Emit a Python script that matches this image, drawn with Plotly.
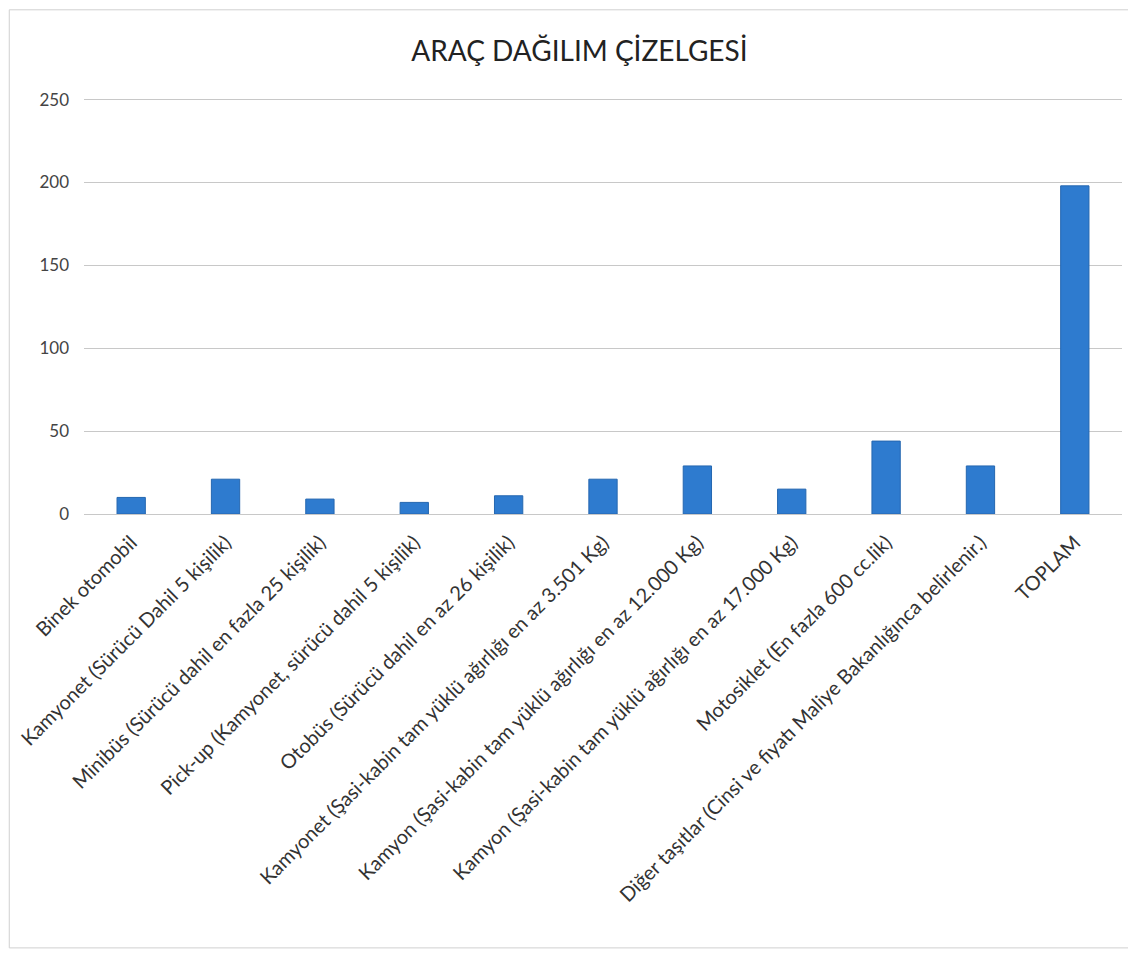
import plotly.graph_objects as go

title = "ARAÇ DAĞILIM ÇİZELGESİ"
categories = [
    "Binek otomobil",
    "Kamyonet (Sürücü Dahil 5 kişilik)",
    "Minibüs (Sürücü dahil en fazla 25 kişilik)",
    "Pick-up (Kamyonet, sürücü dahil 5 kişilik)",
    "Otobüs (Sürücü dahil en az 26 kişilik)",
    "Kamyonet (Şasi-kabin tam yüklü ağırlığı en az 3.501 Kg)",
    "Kamyon (Şasi-kabin tam yüklü ağırlığı en az 12.000 Kg)",
    "Kamyon (Şasi-kabin tam yüklü ağırlığı en az 17.000 Kg)",
    "Motosiklet (En fazla 600 cc.lik)",
    "Diğer taşıtlar (Cinsi ve fiyatı Maliye Bakanlığınca belirlenir.)",
    "TOPLAM",
]
values = [10, 21, 9, 7, 11, 21, 29, 15, 44, 29, 198]
y_ticks = [0, 50, 100, 150, 200, 250]

fig = go.Figure(go.Bar(
    x=categories, y=values,
    marker=dict(color="#2E7BCF", line=dict(color="#2567B0", width=1)),
    width=0.3,
))

fig.update_layout(
    width=1136, height=954,
    paper_bgcolor="white", plot_bgcolor="white",
    margin=dict(l=76, r=22, t=90, b=448),
    title=dict(text=title, x=0.503, xanchor="center", y=0.955, yanchor="middle",
               font=dict(family="Lato, Open Sans, sans-serif", size=28, color="#222222")),
    font=dict(family="Lato, Open Sans, sans-serif", color="#404040"),
    showlegend=False,
    shapes=[dict(type="rect", xref="paper", yref="paper", x0=-0.072, x1=1.0077,
                 y0=-1.043, y1=1.212, line=dict(color="#D0D0D0", width=1))],
)
fig.update_yaxes(range=[0, 251], tickvals=y_ticks, showgrid=True, gridcolor="#C8C8C8",
                 gridwidth=1, zeroline=False, showline=False, ticks="",
                 tickfont=dict(size=17, color="#444444"), ticklabelstandoff=14)
fig.update_xaxes(tickangle=-45, showline=True, linecolor="#C8C8C8", ticks="",
                 tickfont=dict(size=20, color="#333333"), automargin=False,
                 ticklabelstandoff=8)

fig.write_html("out.html")
